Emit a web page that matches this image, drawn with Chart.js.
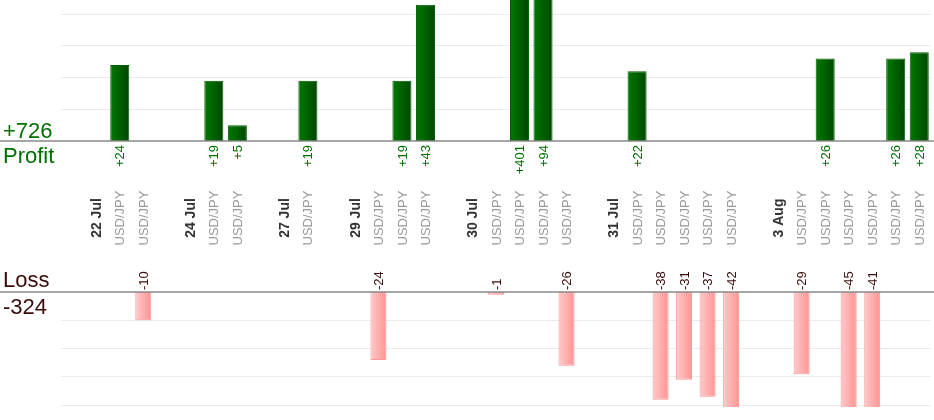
<!DOCTYPE html>
<html>
<head>
<meta charset="utf-8">
<title>Profit / Loss</title>
<script src="https://cdn.jsdelivr.net/npm/chart.js@4.4.0/dist/chart.umd.min.js"></script>
<style>
  html, body { margin: 0; padding: 0; background: #fff; }
  #wrap { position: relative; width: 934px; height: 420px; overflow: hidden; }
  #wrap canvas { position: absolute; left: 0; }
  #profitChart { top: 0; }
  #lossChart { top: 260px; }
</style>
</head>
<body>
<div id="wrap">
  <canvas id="profitChart" width="934" height="260"></canvas>
  <canvas id="lossChart" width="934" height="160"></canvas>
</div>
<script>
// slots: empty spacer, date, then one slot per trade
const categories = [
  '', '22 Jul', 'USD/JPY', 'USD/JPY',
  '', '24 Jul', 'USD/JPY', 'USD/JPY',
  '', '27 Jul', 'USD/JPY',
  '', '29 Jul', 'USD/JPY', 'USD/JPY', 'USD/JPY',
  '', '30 Jul', 'USD/JPY', 'USD/JPY', 'USD/JPY', 'USD/JPY',
  '', '31 Jul', 'USD/JPY', 'USD/JPY', 'USD/JPY', 'USD/JPY', 'USD/JPY',
  '', '3 Aug', 'USD/JPY', 'USD/JPY', 'USD/JPY', 'USD/JPY', 'USD/JPY', 'USD/JPY'
];

const profits = [
  null, null, 24, null,
  null, null, 19, 5,
  null, null, 19,
  null, null, null, 19, 43,
  null, null, null, 401, 94, null,
  null, null, 22, null, null, null, null,
  null, null, null, 26, null, null, 26, 28
];

const losses = [
  null, null, null, -10,
  null, null, null, null,
  null, null, null,
  null, null, -24, null, null,
  null, null, -1, null, null, -26,
  null, null, null, -38, -31, -37, -42,
  null, null, -29, null, -45, -41, null, null
];

const profitGrid = [10, 20, 30, 40];
const lossGrid = [-10, -20, -30, -40];
const profitMax = 44.5;
const lossMin = -40.6;

const FONT = '"Liberation Sans", Arial, sans-serif';
const GREEN_TEXT = '#007000';
const LOSS_TEXT = '#3b0a0a';
const GRID = '#ebebeb';

Chart.defaults.font.family = FONT;

const totalProfit = profits.reduce((s, v) => s + (v || 0), 0);
const totalLoss = losses.reduce((s, v) => s + (v || 0), 0);

function isDate(label) {
  return label !== '' && label.indexOf('/') < 0;
}

function barGradient(context, pct, from, to) {
  const chart = context.chart;
  const x = chart.scales.x;
  if (!chart.chartArea || !x) return from;
  const cx = x.getPixelForValue(context.dataIndex);
  const half = (x.width / categories.length) * pct / 2;
  const g = chart.ctx.createLinearGradient(cx - half, 0, cx + half, 0);
  g.addColorStop(0, from);
  g.addColorStop(1, to);
  return g;
}

function rotatedText(ctx, text, x, y, align) {
  ctx.save();
  ctx.translate(x, y);
  ctx.rotate(-Math.PI / 2);
  ctx.textAlign = align;
  ctx.textBaseline = 'middle';
  ctx.fillText(text, 0, 0);
  ctx.restore();
}

function zeroLine(chart, y) {
  const ctx = chart.ctx;
  ctx.save();
  ctx.strokeStyle = '#888';
  ctx.lineWidth = 1.5;
  ctx.beginPath();
  ctx.moveTo(0, y);
  ctx.lineTo(chart.width, y);
  ctx.stroke();
  ctx.restore();
}

const profitDecor = {
  id: 'profitDecor',
  afterDraw(chart) {
    const ctx = chart.ctx;
    const y0 = chart.scales.y.getPixelForValue(0);
    const xs = chart.scales.x;
    zeroLine(chart, y0);

    // value labels under the bars
    ctx.save();
    ctx.fillStyle = GREEN_TEXT;
    ctx.font = '13px ' + FONT;
    chart.getDatasetMeta(0).data.forEach((bar, i) => {
      if (profits[i] == null) return;
      rotatedText(ctx, '+' + profits[i], bar.x + 1, y0 + 4, 'right');
    });
    ctx.restore();

    // category labels
    ctx.save();
    categories.forEach((label, i) => {
      if (!label) return;
      const x = xs.getPixelForValue(i);
      if (isDate(label)) {
        ctx.fillStyle = '#333';
        ctx.font = 'bold 14px ' + FONT;
      } else {
        ctx.fillStyle = '#999';
        ctx.font = '13px ' + FONT;
      }
      rotatedText(ctx, label, x + 1, 218, 'center');
    });
    ctx.restore();

    // totals on the left
    ctx.save();
    ctx.fillStyle = GREEN_TEXT;
    ctx.font = '22px ' + FONT;
    ctx.textAlign = 'left';
    ctx.textBaseline = 'alphabetic';
    ctx.fillText('+' + totalProfit, 3, y0 - 3.5);
    ctx.fillText('Profit', 3, y0 + 21.5);
    ctx.restore();
  }
};

const lossDecor = {
  id: 'lossDecor',
  afterDraw(chart) {
    const ctx = chart.ctx;
    const y0 = chart.scales.y.getPixelForValue(0);
    zeroLine(chart, y0);

    ctx.save();
    ctx.fillStyle = LOSS_TEXT;
    ctx.font = '13px ' + FONT;
    chart.getDatasetMeta(0).data.forEach((bar, i) => {
      if (losses[i] == null) return;
      rotatedText(ctx, String(losses[i]), bar.x + 1, y0 - 2, 'left');
    });
    ctx.restore();

    ctx.save();
    ctx.fillStyle = LOSS_TEXT;
    ctx.font = '22px ' + FONT;
    ctx.textAlign = 'left';
    ctx.textBaseline = 'alphabetic';
    ctx.fillText('Loss', 3, y0 - 5);
    ctx.fillText(String(totalLoss), 3, y0 + 22);
    ctx.restore();
  }
};

function baseOptions(yMin, yMax, gridValues, padding) {
  return {
    responsive: false,
    animation: false,
    layout: { padding: padding },
    plugins: { legend: { display: false }, tooltip: { enabled: false } },
    scales: {
      x: { type: 'category', labels: categories, offset: true, display: false },
      y: {
        min: yMin,
        max: yMax,
        afterBuildTicks: scale => {
          scale.ticks = gridValues.map(v => ({ value: v }));
        },
        ticks: { display: false },
        grid: { color: GRID, drawTicks: false },
        border: { display: false }
      }
    }
  };
}

new Chart(document.getElementById('profitChart'), {
  type: 'bar',
  data: {
    labels: categories,
    datasets: [{
      data: profits,
      barPercentage: 0.81,
      categoryPercentage: 1,
      borderWidth: 1,
      borderColor: '#005c00',
      backgroundColor: ctx => barGradient(ctx, 0.81, '#007800', '#004800'),
      clip: 0
    }]
  },
  options: baseOptions(0, profitMax, profitGrid, { left: 61, right: 3, top: 0, bottom: 119 }),
  plugins: [profitDecor]
});

new Chart(document.getElementById('lossChart'), {
  type: 'bar',
  data: {
    labels: categories,
    datasets: [{
      data: losses,
      barPercentage: 0.68,
      categoryPercentage: 1,
      borderWidth: 1,
      borderColor: '#ff9797',
      backgroundColor: ctx => barGradient(ctx, 0.68, '#ffcaca', '#ff9393'),
      clip: 0
    }]
  },
  options: baseOptions(lossMin, 0, lossGrid, { left: 61, right: 3, top: 32, bottom: 13 }),
  plugins: [lossDecor]
});
</script>
</body>
</html>
